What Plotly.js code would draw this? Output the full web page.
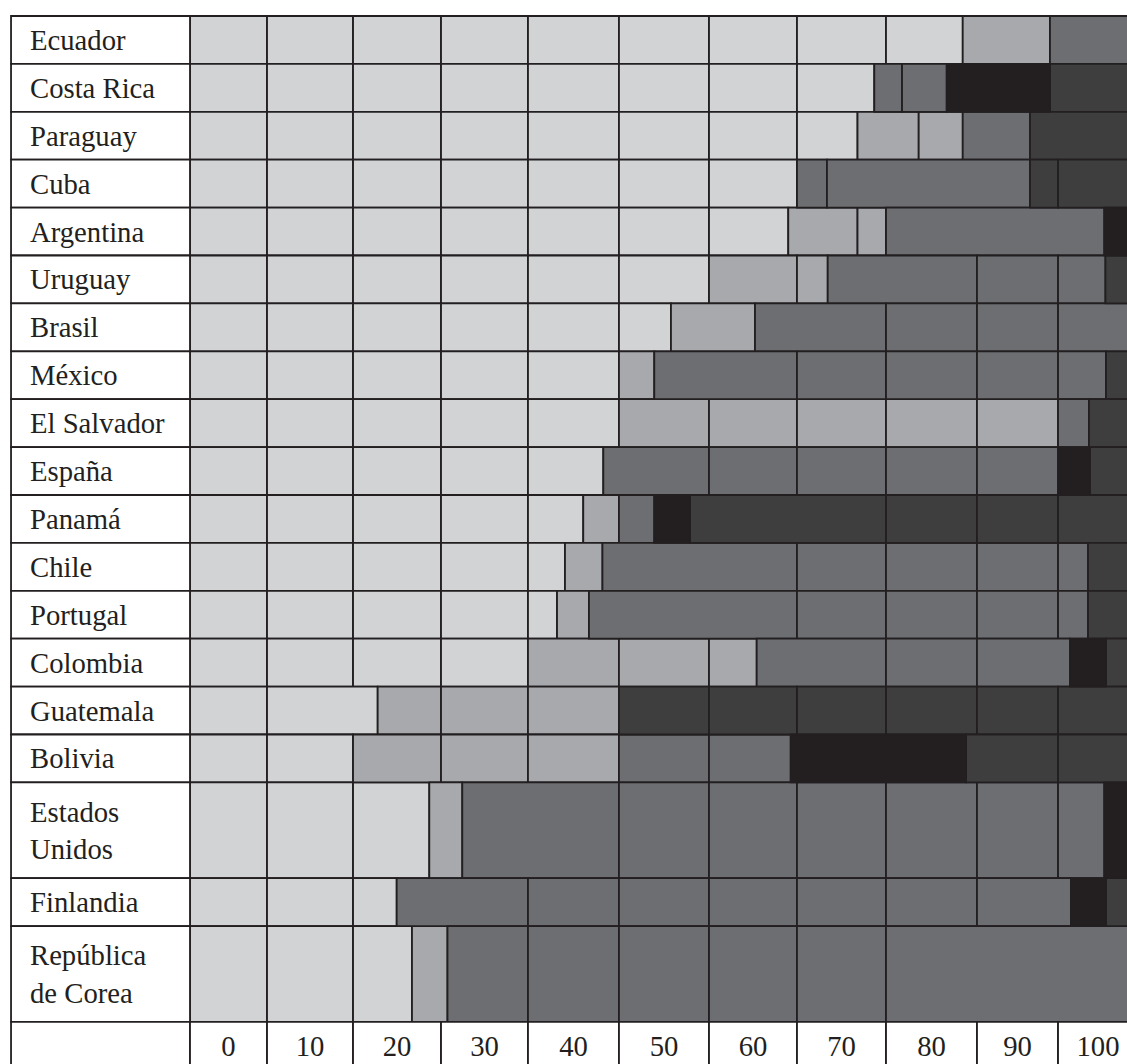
<!DOCTYPE html>
<html>
<head>
<meta charset="utf-8">
<script src="https://cdn.plot.ly/plotly-3.0.1.min.js"></script>
<style>html,body{margin:0;padding:0;background:#ffffff;}</style>
</head>
<body>
<div id="chart" style="width:1127px;height:1064px;"></div>
<script>
// ---- data ----
const countryLabels = [
  "Ecuador", "Costa Rica", "Paraguay", "Cuba", "Argentina", "Uruguay", "Brasil",
  "México", "El Salvador", "España", "Panamá", "Chile", "Portugal", "Colombia",
  "Guatemala", "Bolivia", "Estados<br>Unidos", "Finlandia", "República<br>de Corea"
];
// row height in table units (two-line names take a double row)
const rowHeights = [1,1,1,1,1,1,1,1,1,1,1,1,1,1,1,1,2,1,2];

// right edge of each segment of each row (scale of the drawing)
const edges = [
  [8.22,17.40,26.79,36.07,45.78,55.39,64.78,74.28,82.47,91.78,101.17],          // Ecuador
  [8.22,17.40,26.79,36.07,45.78,55.39,64.78,73.03,75.99,80.76,91.78,101.17],    // Costa Rica
  [8.22,17.40,26.79,36.07,45.78,55.39,64.78,71.24,77.77,82.47,89.65,101.17],    // Paraguay
  [8.22,17.40,26.79,36.07,45.78,55.39,64.78,67.98,89.65,92.64,101.17],          // Cuba
  [8.22,17.40,26.79,36.07,45.78,55.39,63.85,71.24,74.28,97.58,101.17],          // Argentina
  [8.22,17.40,26.79,36.07,45.78,55.39,64.78,68.06,83.99,92.64,97.70,101.17],    // Uruguay
  [8.22,17.40,26.79,36.07,45.78,51.33,60.30,74.28,83.99,92.64,101.17],          // Brasil
  [8.22,17.40,26.79,36.07,45.78,49.55,64.78,74.28,83.99,92.64,97.76,101.17],    // México
  [8.22,17.40,26.79,36.07,45.78,55.39,64.78,74.28,83.99,92.64,95.94,101.17],    // El Salvador
  [8.22,17.40,26.79,36.07,44.11,55.39,64.78,74.28,83.99,92.64,96.05,101.17],    // España
  [8.22,17.40,26.79,36.07,41.97,45.78,49.55,53.36,74.28,83.99,92.64,101.17],    // Panamá
  [8.22,17.40,26.79,36.07,40.02,44.02,64.78,74.28,83.99,92.64,95.84,101.17],    // Chile
  [8.22,17.40,26.79,36.07,39.17,42.58,64.78,74.28,83.99,92.64,95.84,101.17],    // Portugal
  [8.22,17.40,26.79,36.07,45.78,55.39,60.48,74.28,83.99,93.92,97.76,101.17],    // Colombia
  [8.22,20.03,26.79,36.07,45.78,55.39,64.78,74.28,83.99,92.64,101.17],          // Guatemala
  [8.22,17.40,26.79,36.07,45.78,55.39,64.11,82.82,92.64,101.17],                // Bolivia
  [8.22,17.40,25.54,29.06,45.78,55.39,64.78,74.28,83.99,92.64,97.58,101.17],    // Estados Unidos
  [8.22,17.40,22.06,36.07,45.78,55.39,64.78,74.28,83.99,94.02,97.76,101.17],    // Finlandia
  [8.22,17.40,23.69,27.48,36.07,45.78,55.39,64.78,74.28,101.17]                 // República de Corea
];
// shade level of each segment: 1 lightest ... 5 darkest
const shades = [
  [1,1,1,1,1,1,1,1,1,2,3],
  [1,1,1,1,1,1,1,1,3,3,5,4],
  [1,1,1,1,1,1,1,1,2,2,3,4],
  [1,1,1,1,1,1,1,3,3,4,4],
  [1,1,1,1,1,1,1,2,2,3,5],
  [1,1,1,1,1,1,2,2,3,3,3,4],
  [1,1,1,1,1,1,2,3,3,3,3],
  [1,1,1,1,1,2,3,3,3,3,3,4],
  [1,1,1,1,1,2,2,2,2,2,3,4],
  [1,1,1,1,1,3,3,3,3,3,5,4],
  [1,1,1,1,1,2,3,5,4,4,4,4],
  [1,1,1,1,1,2,3,3,3,3,3,4],
  [1,1,1,1,1,2,3,3,3,3,3,4],
  [1,1,1,1,2,2,2,3,3,3,5,4],
  [1,1,2,2,2,4,4,4,4,4,4],
  [1,1,2,2,2,3,3,5,4,4],
  [1,1,1,2,3,3,3,3,3,3,3,5],
  [1,1,1,3,3,3,3,3,3,3,5,4],
  [1,1,1,2,3,3,3,3,3,3]
];
const tickLabels = ["0","10","20","30","40","50","60","70","80","90","100"];
const tickEdges  = [8.22,17.40,26.79,36.07,45.78,55.39,64.78,74.28,83.99,92.64,101.17];
const shadeColors = ["#d1d3d4","#a7a9ac","#6d6e71","#3e3e3f","#231f20"];
const labelColumnStart = -19.10;

// ---- build traces ----
const FONT = "Liberation Serif, Times New Roman, serif";
const LINE = {color:"#231f20", width:1.8};

const centers = [];
let acc = 0;
rowHeights.forEach(h => { centers.push(acc + h/2); acc += h; });
const tickRowCenter = acc + 0.5;

const traces = [];
shadeColors.forEach((col, si) => {
  const y = [], base = [], x = [], w = [];
  edges.forEach((row, r) => {
    let left = 0;
    row.forEach((right, k) => {
      if (shades[r][k] === si + 1) {
        y.push(centers[r]); base.push(left); x.push(right - left); w.push(rowHeights[r]);
      }
      left = right;
    });
  });
  traces.push({type:"bar", orientation:"h", y, base, x, width:w,
    marker:{color:col, line:LINE}, hoverinfo:"skip", showlegend:false});
});

// white label column cells (including the tick row)
const labY = centers.concat([tickRowCenter]);
const labW = rowHeights.concat([1]);
traces.push({type:"bar", orientation:"h", y:labY,
  base:labY.map(() => labelColumnStart), x:labY.map(() => -labelColumnStart),
  width:labW, marker:{color:"#ffffff", line:LINE}, hoverinfo:"skip", showlegend:false});

// tick row cells with the scale labels
{
  const base = [], x = [];
  let left = 0;
  tickEdges.forEach(r => { base.push(left); x.push(r - left); left = r; });
  traces.push({type:"bar", orientation:"h", y:tickEdges.map(() => tickRowCenter),
    base, x, width:tickEdges.map(() => 1),
    text:tickLabels, textposition:"inside", insidetextanchor:"middle", textangle:0,
    constraintext:"none",
    insidetextfont:{family:FONT, size:28.7, color:"#231f20"},
    marker:{color:"#ffffff", line:LINE}, hoverinfo:"skip", showlegend:false});
}

const W = 1127, H = 1064;
const pxPerUnitX = 9.37, x0px = 190;
const rowPx = 47.9, y0px = 16;

const layout = {
  width: W, height: H,
  margin: {l:0, r:0, t:0, b:0, pad:0},
  paper_bgcolor: "#ffffff", plot_bgcolor: "#ffffff",
  barmode: "overlay",
  showlegend: false,
  hovermode: false,
  xaxis: {range:[(0 - x0px)/pxPerUnitX, (W - x0px)/pxPerUnitX], showgrid:false, zeroline:false,
          showticklabels:false, ticks:"", showline:false, fixedrange:true},
  yaxis: {range:[(H - y0px)/rowPx, (0 - y0px)/rowPx], showgrid:false, zeroline:false,
          tickmode:"array", tickvals:centers, ticktext:countryLabels,
          ticklabelposition:"inside", ticks:"", ticklabelstandoff:27,
          tickfont:{family:FONT, size:28.7, color:"#231f20"},
          showline:false, fixedrange:true}
};

Plotly.newPlot("chart", traces, layout, {displayModeBar:false, staticPlot:true});
</script>
</body>
</html>
